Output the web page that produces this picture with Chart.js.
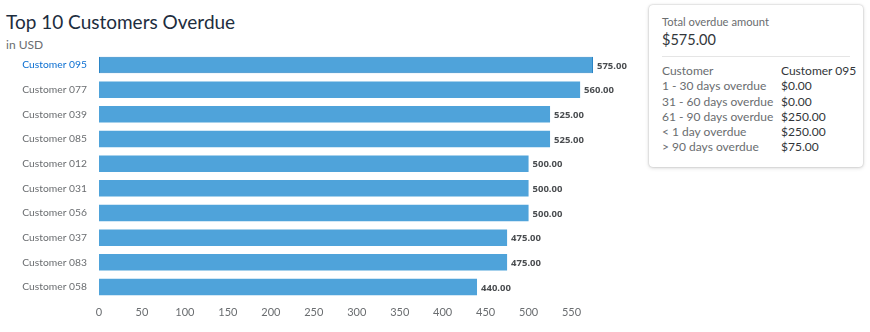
<!DOCTYPE html>
<html>
<head>
<meta charset="utf-8">
<script src="https://cdn.jsdelivr.net/npm/chart.js@4.4.1/dist/chart.umd.min.js"></script>
<style>
  html, body { margin: 0; padding: 0; background: #fff; }
  body { width: 870px; height: 332px; position: relative; overflow: hidden; font-family: Lato, sans-serif; }
  #title { position: absolute; left: 6px; top: 10px; font-size: 19px; color: #1d2d3e; white-space: nowrap; }
  #subtitle { position: absolute; left: 6px; top: 37px; font-size: 12px; color: #6a6d70; }
  #chartWrap { position: absolute; left: 0; top: 0; width: 640px; height: 332px; }
  .card { position: absolute; left: 649px; top: 5px; width: 214px; height: 162px; box-sizing: border-box;
          background: #fff; border-radius: 4px; box-shadow: 0 0 2px rgba(0,0,0,0.25), 0 1px 4px rgba(0,0,0,0.15);
          padding: 9px 0 0 13px; color: #32363a; font-size: 12px; }
  .card .lbl { color: #6a6d70; font-size: 11.2px; line-height: 15px; }
  .card .total { font-size: 14.5px; line-height: 20px; margin-top: 1px; }
  .card hr { border: 0; border-top: 1px solid #e5e5e5; margin: 6px 13px 6px 0; }
  .card table { border-collapse: collapse; table-layout: fixed; width: 200px; }
  .card td { padding: 0; height: 15.3px; line-height: 15.3px; white-space: nowrap; }
  .card td.k { color: #6a6d70; width: 119px; }
</style>
</head>
<body>
<div id="title">Top 10 Customers Overdue</div>
<div id="subtitle">in USD</div>
<div id="chartWrap"><canvas id="chart"></canvas></div>

<div class="card">
  <div class="lbl">Total overdue amount</div>
  <div class="total" id="total"></div>
  <hr>
  <table id="detail"></table>
</div>

<script>
const customers = ['Customer 095', 'Customer 077', 'Customer 039', 'Customer 085', 'Customer 012',
                   'Customer 031', 'Customer 056', 'Customer 037', 'Customer 083', 'Customer 058'];
const overdue = [575, 560, 525, 525, 500, 500, 500, 475, 475, 440];
const xTicks = [0, 50, 100, 150, 200, 250, 300, 350, 400, 450, 500, 550];

// breakdown shown for the selected customer
const selected = 0;
const bucketLabels = ['1 - 30 days overdue', '31 - 60 days overdue', '61 - 90 days overdue', '< 1 day overdue', '> 90 days overdue'];
const bucketValues = [0, 0, 250, 250, 75];

const money = v => '$' + v.toFixed(2);
document.getElementById('total').textContent = money(overdue[selected]);
const tbl = document.getElementById('detail');
const rows = [['Customer', customers[selected]]].concat(bucketLabels.map((b, i) => [b, money(bucketValues[i])]));
rows.forEach(r => {
  const tr = document.createElement('tr');
  const k = document.createElement('td');
  k.className = 'k';
  k.textContent = r[0];
  const v = document.createElement('td');
  v.textContent = r[1];
  tr.append(k, v);
  tbl.appendChild(tr);
});

// writes the amount at the end of each bar
const valueLabels = {
  id: 'valueLabels',
  afterDatasetsDraw(chart) {
    const { ctx } = chart;
    const meta = chart.getDatasetMeta(0);
    ctx.save();
    ctx.font = 'bold 9.5px "Noto Sans"';
    ctx.fillStyle = '#4a4d50';
    ctx.textAlign = 'left';
    ctx.textBaseline = 'middle';
    meta.data.forEach((bar, i) => {
      ctx.fillText(overdue[i].toFixed(2), bar.x + 4, bar.y + 1);
    });
    ctx.restore();
  }
};

const barFill = '#4fa3da';
new Chart(document.getElementById('chart'), {
  type: 'bar',
  data: {
    labels: customers,
    datasets: [{
      data: overdue,
      backgroundColor: barFill,
      borderColor: overdue.map((v, i) => i === selected ? '#2b85c6' : barFill),
      borderWidth: overdue.map((v, i) => i === selected ? 1 : 0),
      borderSkipped: false,
      barPercentage: 0.67,
      categoryPercentage: 1
    }]
  },
  options: {
    indexAxis: 'y',
    responsive: true,
    maintainAspectRatio: false,
    animation: false,
    layout: { padding: { top: 52.7, bottom: 5.5, right: 47, left: 0 } },
    plugins: { legend: { display: false }, tooltip: { enabled: false } },
    scales: {
      x: {
        min: 0, max: 575,
        afterBuildTicks: s => { s.ticks = xTicks.map(v => ({ value: v })); },
        grid: { display: false, drawTicks: false },
        border: { display: false },
        ticks: { padding: 7, color: '#6a6d70', font: { family: 'Lato', size: 11 }, maxRotation: 0, autoSkip: false }
      },
      y: {
        afterFit: s => { s.width = 99; },
        grid: { display: false, drawTicks: false },
        border: { display: false },
        ticks: {
          padding: 12,
          color: ctx => ctx.index === selected ? '#0a6ed1' : '#6a6d70',
          font: { family: 'Lato', size: 10.3 }
        }
      }
    }
  },
  plugins: [valueLabels]
});
</script>
</body>
</html>
